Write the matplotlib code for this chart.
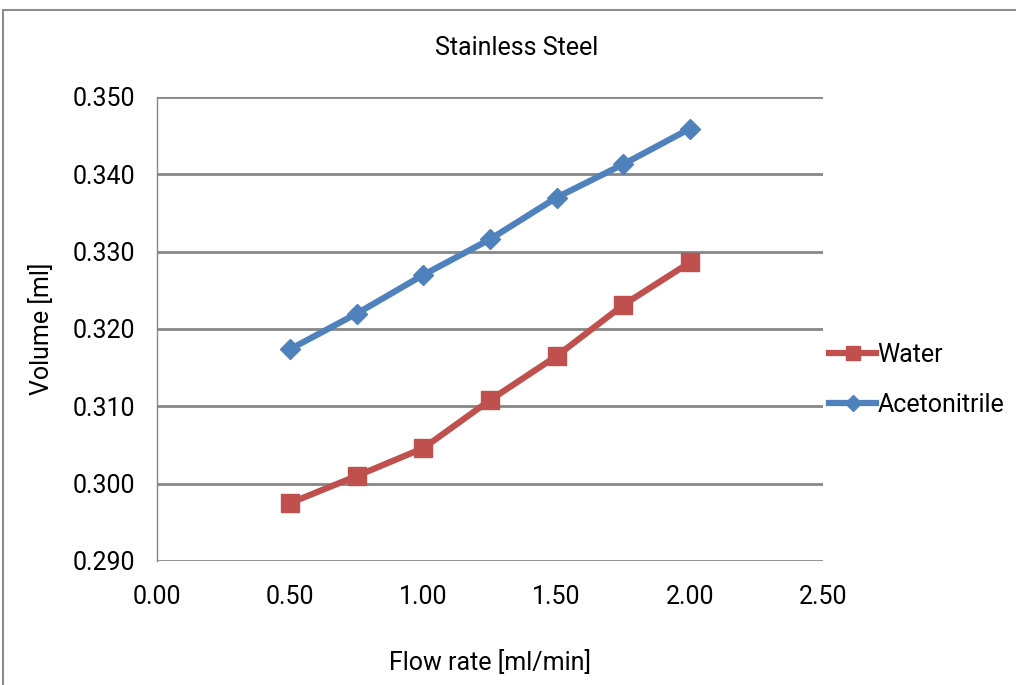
import matplotlib.pyplot as plt
import matplotlib.patches as patches

flow = [0.50, 0.75, 1.00, 1.25, 1.50, 1.75, 2.00]
water = [0.2975, 0.3010, 0.3046, 0.3108, 0.3165, 0.3231, 0.3286]
acetonitrile = [0.3174, 0.3220, 0.3270, 0.3316, 0.3370, 0.3413, 0.3459]

xticks = [0.0, 0.5, 1.0, 1.5, 2.0, 2.5]
yticks = [0.290, 0.300, 0.310, 0.320, 0.330, 0.340, 0.350]

plt.rcParams['font.family'] = ['Roboto', 'DejaVu Sans']

fig = plt.figure(figsize=(10.16, 6.85), dpi=100)
fig.patch.set_facecolor('white')

# outer chart frame
frame = patches.Rectangle((3 / 1016, -0.01), 1.2, 1 - 10 / 685 + 0.01,
                          transform=fig.transFigure, fill=False,
                          edgecolor='#8c8c8c', linewidth=1.5)
fig.add_artist(frame)

ax = fig.add_axes([157 / 1016, 1 - 561 / 685, (823 - 157) / 1016, (561 - 97) / 685])

ax.plot(flow, water, color='#C0504D', linewidth=4.5, marker='s',
        markersize=13, label='Water', zorder=3)
ax.plot(flow, acetonitrile, color='#4F81BD', linewidth=4.5, marker='D',
        markersize=10, label='Acetonitrile', zorder=3)

ax.set_xlim(0, 2.5)
ax.set_ylim(0.290, 0.350)
ax.set_xticks(xticks)
ax.set_xticklabels([f'{v:.2f}' for v in xticks])
ax.set_yticks(yticks)
ax.set_yticklabels([f'{v:.3f}' for v in yticks])
ax.tick_params(length=0, labelsize=18)
ax.tick_params(axis='x', pad=17)
ax.tick_params(axis='y', pad=16)

ax.grid(axis='y', color='#868686', linewidth=2)
ax.set_axisbelow(True)
for side in ['top', 'right', 'bottom']:
    ax.spines[side].set_visible(False)
ax.spines['left'].set_color('#868686')
ax.spines['left'].set_linewidth(1)

ax.set_title('Stainless Steel', fontsize=18, pad=30, x=0.54)
ax.set_xlabel('Flow rate [ml/min]', fontsize=18, labelpad=30)
ax.set_ylabel('Volume [ml]', fontsize=18, labelpad=13)

ax.legend(loc='center left', bbox_to_anchor=(0.975, 0.39), frameon=False,
          fontsize=18, handlelength=1.9, handletextpad=0.05, labelspacing=1.05,
          markerscale=0.8)

fig.savefig('out.png', dpi=100, facecolor='white')
